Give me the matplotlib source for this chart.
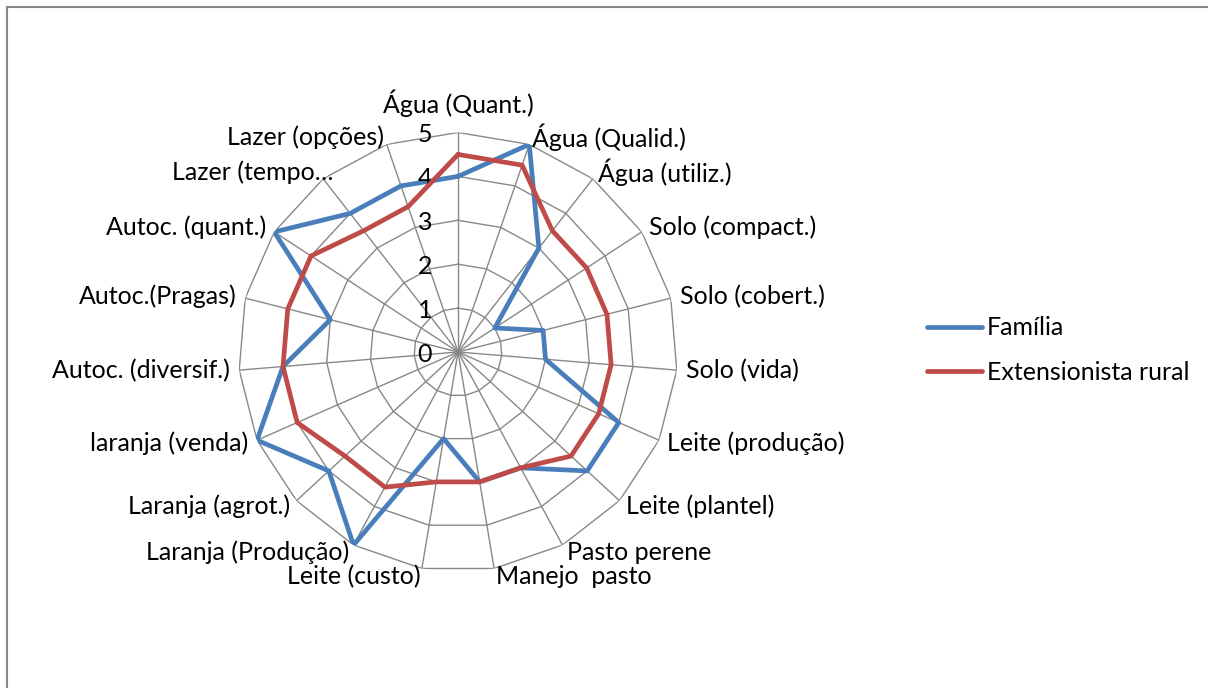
import numpy as np
import matplotlib
matplotlib.use("Agg")
import matplotlib.pyplot as plt
from matplotlib.patches import Rectangle

categories = ["Água (Quant.)", "Água (Qualid.)", "Água (utiliz.)", "Solo (compact.)",
              "Solo (cobert.)", "Solo (vida)", "Leite (produção)", "Leite (plantel)",
              "Pasto perene", "Manejo  pasto", "Leite (custo)", "Laranja (Produção)",
              "Laranja (agrot.)", "laranja (venda)", "Autoc. (diversif.)", "Autoc.(Pragas)",
              "Autoc. (quant.)", "Lazer (tempo…", "Lazer (opções)"]
familia = [4, 5, 3, 1, 2, 2, 4, 4, 3, 3, 2, 5, 4, 5, 4, 3, 5, 4, 4]
extensionista = [4.5, 4.5, 3.5, 3.5, 3.5, 3.5, 3.5, 3.5, 3, 3, 3, 3.5, 3.5, 4, 4, 4, 4, 3.5, 3.5]
series_names = ["Família", "Extensionista rural"]
tick_values = [0, 1, 2, 3, 4, 5]

FONT = "Lato"
FS = 18
plt.rcParams['font.family'] = [FONT, 'DejaVu Sans']

W, H = 1208, 688
fig = plt.figure(figsize=(W / 100, H / 100), dpi=100)
fig.patch.set_facecolor("white")

# outer chart border
fig.patches.append(Rectangle((6.5 / W, -0.1), 1.2, 1 - 6.5 / H + 0.1, transform=fig.transFigure,
                             fill=False, edgecolor="#878787", linewidth=1.5))

cx, cy, R = 458, 352, 219.5
ax = fig.add_axes([(cx - R) / W, (H - cy - R) / H, 2 * R / W, 2 * R / H], projection="polar")
ax.set_theta_offset(np.pi / 2)
ax.set_theta_direction(-1)
ax.set_ylim(0, 5)
ax.grid(False)
ax.set_xticks([])
ax.set_yticks([])
ax.spines["polar"].set_visible(False)
ax.patch.set_alpha(0)

n = len(categories)
angles = np.arange(n) * 2 * np.pi / n
closed = np.concatenate([angles, angles[:1]])

gcol = "#888888"
for lv in tick_values[1:]:
    ax.plot(closed, [lv] * (n + 1), color=gcol, lw=1.0, zorder=1)
for a in angles:
    ax.plot([a, a], [0, 5], color=gcol, lw=1.0, zorder=1)

blue = "#4A7EBB"
red = "#BE4B48"
lf, = ax.plot(closed, familia + familia[:1], color=blue, lw=3.4, zorder=3,
              solid_joinstyle="round", solid_capstyle="round", label=series_names[0])
le, = ax.plot(closed, extensionista + extensionista[:1], color=red, lw=3.4, zorder=4,
              solid_joinstyle="round", solid_capstyle="round", label=series_names[1])

for v in tick_values:
    ax.annotate(str(v), xy=(0, v), xytext=(-26, -2), textcoords="offset pixels",
                ha="right", va="center", fontsize=FS, color="black", annotation_clip=False)

for a, lab in zip(angles, categories):
    s, c = np.sin(a), np.cos(a)
    if abs(s) < 0.05:
        ax.annotate(lab, xy=(a, 5), xytext=(0, 29), textcoords="offset pixels",
                    ha="center", va="center", fontsize=FS, annotation_clip=False)
        continue
    ha = "left" if s > 0 else "right"
    dx, dy = 9 * s, 8 * c
    if abs(c) > 0.9 and c < 0:
        dy = -8
    if lab.startswith("Lazer (tempo"):
        dx += 16
    ax.annotate(lab, xy=(a, 5), xytext=(dx, dy), textcoords="offset pixels",
                ha=ha, va="center", fontsize=FS, annotation_clip=False)

leg = fig.legend(handles=[lf, le], loc="center left",
                 bbox_to_anchor=(917 / W, 1 - 350 / H), frameon=False, fontsize=FS,
                 handlelength=2.2, handletextpad=0.2, labelspacing=0.85, borderaxespad=0)

fig.savefig("out.png", dpi=100, facecolor="white")
